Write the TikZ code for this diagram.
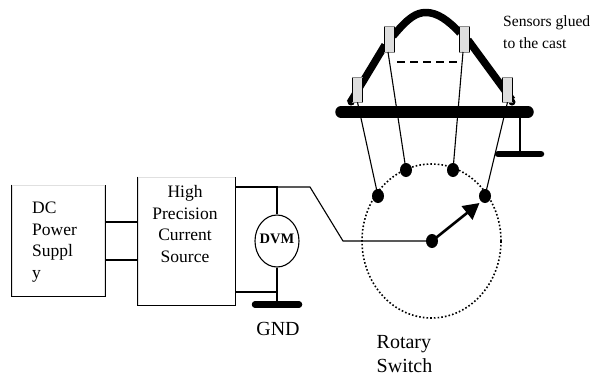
\documentclass[tikz,border=0pt]{standalone}
\usepackage{fontspec}
\setmainfont{Liberation Serif}
\usetikzlibrary{arrows.meta,shapes.geometric,positioning}
\tikzset{
  wire/.style={draw=black,line width=1.1pt},
  boxnode/.style={draw=black!12,line width=0.8pt,rectangle,inner sep=0pt},
  bigtext/.style={font=\fontsize{17.5}{21.5}\selectfont,inner sep=0pt,align=center},
  sensor/.style={rectangle,fill=black!13,minimum width=10.5pt,inner sep=0pt},
  sensoredge/.style={line width=1pt},
  terminal/.style={ellipse,fill=black,minimum width=12pt,minimum height=14pt,inner sep=0pt},
  thickbar/.style={line width=#1,line cap=round},
  cast/.style={line width=7.5pt,line join=round},
}
\begin{document}
\begin{tikzpicture}[x=1pt,y=-1pt]
\useasboundingbox (0,0) rectangle (603,376);
% boxes
\node[boxnode,minimum width=92.5pt,minimum height=111pt] (dc) at (58.5,240.5) {};
\draw[wire] (dc.north west) -- (dc.south west) -- (dc.south east) -- (dc.north east);
\node[boxnode,minimum width=97pt,minimum height=128pt] (hp) at (186.5,241) {};
\draw[wire] (hp.north west) -- (hp.south west) -- (hp.south east) -- (hp.north east);
\node[bigtext,align=left,anchor=north west] (dctext) at (32,202) {DC\\Power\\Suppl\\y};
\node[bigtext,anchor=north] (hptext) at (185,185.5) {High\\Precision\\Current\\Source};
% dvm
\node[ellipse,draw=black,line width=1.1pt,minimum width=44pt,minimum height=52pt,inner sep=0pt] (dvm) at (277,241) {};
\node[font=\fontsize{14.5}{16}\selectfont\bfseries,inner sep=0pt] (dvmtext) at (277,238.5) {DVM};
\coordinate (gndc) at (277,304.5);
\coordinate (gl) at (255,304.5);
\coordinate (gr) at (299,304.5);
\draw[thickbar=6.5pt] (gl) -- (gr);
\node[font=\fontsize{20}{24}\selectfont,inner sep=0pt] (gnd) at (278,329) {GND};
% wires
\coordinate (j1) at (277,187);
\coordinate (j2) at (277,292);
\coordinate (b1) at (310,187);
\coordinate (b2) at (343,241);
\draw[wire] (dc.east |- 0,222) -- (hp.west |- 0,222);
\draw[wire] (dc.east |- 0,260) -- (hp.west |- 0,260);
\draw[wire] (hp.east |- j1) -- (j1) -- (dvm.north);
\draw[wire] (hp.east |- j2) -- (j2);
\draw[wire] (dvm.south) -- (gndc);
% switch
\node[ellipse,draw=black,line width=1.6pt,dash pattern=on 1.6pt off 2.1pt,minimum width=139pt,minimum height=154pt,inner sep=0pt] (sw) at (431.5,241) {};
\node[terminal] (t1) at (378,196) {};
\node[terminal] (t2) at (406,170) {};
\node[terminal] (t3) at (453,170) {};
\node[terminal] (t4) at (485,196) {};
\node[terminal] (tc) at (432,241) {};
\draw[wire] (j1) -- (b1) -- (b2) -- (tc.center);
\draw[line width=2.6pt,-{Triangle[length=16pt,width=17pt]}] (tc.center) -- (479.5,203);
% cast
\draw[cast] (350,103) -- (385,45);
\draw[cast] (393,36) .. controls (408,18) and (416,12.5) .. (426,12.5) .. controls (437,12.5) and (448,20) .. (460,33);
\draw[cast] (468,40) -- (512,100);
\fill (351,102) circle (3.5pt);
\fill (512,102) circle (3.5pt);
\coordinate (barl) at (341,112);
\coordinate (barr) at (528,112);
\coordinate (bar2l) at (498,154);
\coordinate (bar2r) at (541,154);
\coordinate (drop) at (520,112);
\draw[wire] (drop) -- (drop |- bar2l);
\draw[thickbar=6.5pt] (bar2l) -- (bar2r);
\node[sensor,minimum height=25pt] (s1) at (357.5,89.5) {};
\node[sensor,minimum height=26pt] (s2) at (389.5,39) {};
\node[sensor,minimum height=26pt] (s3) at (464.5,39) {};
\node[sensor,minimum height=25pt] (s4) at (507.5,89.5) {};
\foreach \s in {s1,s2,s3,s4}{
  \draw[sensoredge] (\s.north west) -- (\s.south west);
  \draw[sensoredge] (\s.north east) -- (\s.south east);
  \draw[line width=0.6pt,black!45] (\s.north west) -- (\s.north east);
  \draw[line width=0.6pt,black!45] (\s.south west) -- (\s.south east);
}
\draw[line width=2pt,dash pattern=on 8pt off 5pt] (397,61.5) -- (457,61.5);
\draw[wire] (s1.south) -- (t1.center);
\draw[wire] (388,52) -- (t2.center);
\draw[wire] (463,52) -- (t3.center);
\draw[wire] (s4.south) -- (t4.center);
\draw[thickbar=11.5pt] (barl) -- (barr);
% texts
\node[font=\fontsize{15.6}{21.5}\selectfont,inner sep=0pt,align=left,anchor=north west] (sens) at (503,15.5) {Sensors glued\\to the cast};
\node[font=\fontsize{20}{24}\selectfont,inner sep=0pt,align=left,anchor=north west] (rot) at (376.5,335) {Rotary\\Switch};
\end{tikzpicture}
\end{document}
